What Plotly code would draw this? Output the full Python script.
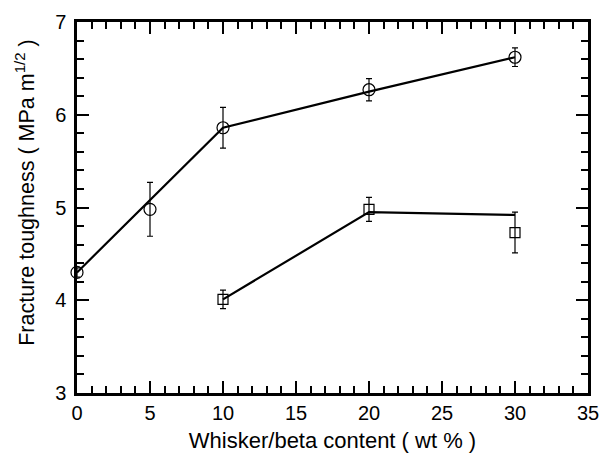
import plotly.graph_objects as go

# Circle series (with error bars)
circ_x = [0, 5, 10, 20, 30]
circ_y = [4.30, 4.98, 5.86, 6.27, 6.62]
circ_err = [0.05, 0.29, 0.22, 0.12, 0.10]
# Guide line for circle series
circ_line_x = [0, 10, 20, 30]
circ_line_y = [4.30, 5.86, 6.25, 6.62]

# Square series (with error bars)
sq_x = [10, 20, 30]
sq_y = [4.01, 4.98, 4.73]
sq_err = [0.10, 0.13, 0.22]
# Guide line for square series
sq_line_x = [10, 20, 30]
sq_line_y = [4.01, 4.95, 4.92]

FONT = "Liberation Sans, Arial, Helvetica, sans-serif"

fig = go.Figure()
fig.add_trace(go.Scatter(x=circ_line_x, y=circ_line_y, mode="lines",
                         line=dict(color="black", width=2.2), showlegend=False))
fig.add_trace(go.Scatter(x=sq_line_x, y=sq_line_y, mode="lines",
                         line=dict(color="black", width=2.2), showlegend=False))
fig.add_trace(go.Scatter(x=circ_x, y=circ_y, mode="markers",
                         marker=dict(symbol="circle-open", size=12, color="black",
                                     line=dict(width=1.2)),
                         error_y=dict(type="data", array=circ_err, color="black",
                                      thickness=1.2, width=3),
                         showlegend=False, cliponaxis=False))
fig.add_trace(go.Scatter(x=sq_x, y=sq_y, mode="markers",
                         marker=dict(symbol="square-open", size=10, color="black",
                                     line=dict(width=1.2)),
                         error_y=dict(type="data", array=sq_err, color="black",
                                      thickness=1.2, width=3),
                         showlegend=False, cliponaxis=False))

axis_common = dict(
    showline=True, linecolor="black", linewidth=2.5, mirror="allticks",
    ticks="inside", ticklen=12, tickwidth=2, tickcolor="black",
    showgrid=False, zeroline=False, automargin=False,
    tickfont=dict(family=FONT, size=20, color="black"),
)

fig.update_xaxes(range=[0, 35], dtick=5, tick0=0,
                 minor=dict(dtick=1, ticks="inside", ticklen=7, tickwidth=2,
                            tickcolor="black", showgrid=False),
                 title=dict(text="Whisker/beta content ( wt % )",
                            font=dict(family=FONT, size=22, color="black"),
                            standoff=18),
                 **axis_common)
fig.update_yaxes(range=[3, 7], dtick=1, tick0=3,
                 minor=dict(dtick=0.2, ticks="inside", ticklen=7, tickwidth=2,
                            tickcolor="black", showgrid=False),
                 ticklabelstandoff=4,
                 **axis_common)

fig.add_annotation(text="Fracture toughness ( MPa m<sup>1/2</sup> )",
                   xref="paper", yref="paper", x=-0.102, y=0.542,
                   xanchor="center", yanchor="middle", textangle=-90,
                   showarrow=False,
                   font=dict(family=FONT, size=21.5, color="black"))

fig.update_layout(
    width=600, height=453,
    margin=dict(l=77, r=12, t=22, b=60),
    paper_bgcolor="white", plot_bgcolor="white",
    font=dict(family=FONT, color="black"),
)

fig.write_html(
    "out.html",
    config={"displayModeBar": False},
    post_script="document.body.style.margin='0';document.body.style.overflow='hidden';",
)
